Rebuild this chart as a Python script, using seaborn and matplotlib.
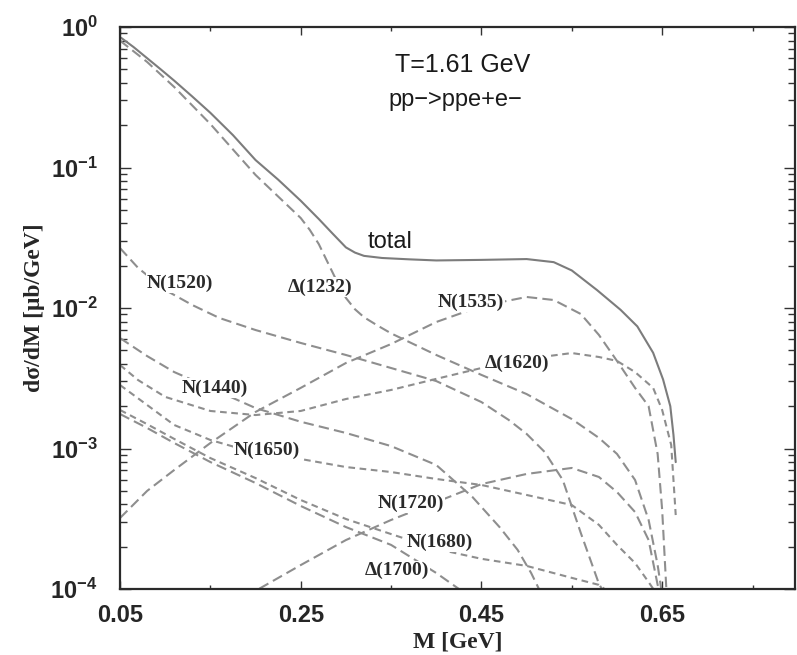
import matplotlib
matplotlib.use("Agg")
import matplotlib.pyplot as plt
import numpy as np
import pandas as pd
import seaborn as sns
from matplotlib.ticker import FixedLocator, FixedFormatter, LogLocator, NullFormatter

# Dilepton invariant-mass spectra, pp -> pp e+e- at T = 1.61 GeV (ub/GeV)
m_total = [0.05, 0.065, 0.08, 0.095, 0.11, 0.13, 0.15, 0.175, 0.20, 0.225, 0.25, 0.27,
           0.285, 0.30, 0.31, 0.32, 0.34, 0.37, 0.40, 0.45, 0.50, 0.53, 0.55, 0.578,
           0.604, 0.6225, 0.64, 0.651, 0.659, 0.6625, 0.665]
xs_total = [0.849, 0.72, 0.60, 0.50, 0.415, 0.32, 0.245, 0.17, 0.113, 0.082, 0.058,
            0.043, 0.034, 0.027, 0.0248, 0.0235, 0.0227, 0.0222, 0.0218, 0.0220, 0.0223,
            0.0212, 0.0185, 0.0134, 0.0097, 0.0074, 0.0048, 0.0031, 0.0020, 0.00125,
            0.00080]

m_d1232 = [0.05, 0.08, 0.11, 0.15, 0.20, 0.25, 0.26, 0.27, 0.28, 0.29, 0.30, 0.31,
           0.32, 0.335, 0.35, 0.40, 0.45, 0.50, 0.55, 0.58, 0.60, 0.62, 0.635, 0.645,
           0.65]
xs_d1232 = [0.80, 0.564, 0.374, 0.204, 0.0885, 0.0437, 0.036, 0.0285, 0.021, 0.0155,
            0.0118, 0.0098, 0.0086, 0.0075, 0.0066, 0.00463, 0.00334, 0.00244, 0.00162,
            0.00119, 0.000915, 0.000597, 0.00031, 0.000148, 0.0000906]

m_n1520 = [0.05, 0.07, 0.10, 0.13, 0.16, 0.20, 0.25, 0.30, 0.35, 0.40, 0.45, 0.48,
           0.50, 0.52, 0.54, 0.56, 0.58, 0.59]
xs_n1520 = [0.0267, 0.0193, 0.01344, 0.0105, 0.00849, 0.00697, 0.00564, 0.00463, 0.00374,
            0.00302, 0.00214, 0.00160, 0.00127, 0.000944, 0.000597, 0.00025, 0.000109,
            0.000084]

m_n1535 = [0.05, 0.08, 0.11, 0.15, 0.20, 0.25, 0.30, 0.35, 0.40, 0.45, 0.50, 0.53,
           0.56, 0.58, 0.60, 0.62, 0.635, 0.645, 0.65, 0.655]
xs_n1535 = [0.00032, 0.000499, 0.000703, 0.001094, 0.00182, 0.0027, 0.00406, 0.00554,
            0.00795, 0.01033, 0.01198, 0.0114, 0.00906, 0.00643, 0.0042, 0.0027, 0.0020,
            0.000914, 0.000365, 0.00009]

m_d1620 = [0.05, 0.07, 0.10, 0.15, 0.20, 0.25, 0.30, 0.35, 0.40, 0.45, 0.50, 0.55,
           0.58, 0.60, 0.62, 0.64, 0.65, 0.66, 0.665]
xs_d1620 = [0.00393, 0.00307, 0.00233, 0.00185, 0.00173, 0.00185, 0.00225, 0.00261,
            0.00313, 0.00374, 0.00434, 0.00478, 0.00448, 0.0042, 0.0035, 0.0027, 0.00188,
            0.00106, 0.000336]

m_n1440 = [0.05, 0.08, 0.11, 0.15, 0.20, 0.25, 0.30, 0.35, 0.40, 0.44, 0.47, 0.49,
           0.505, 0.515]
xs_n1440 = [0.00611, 0.00455, 0.0035, 0.0027, 0.00194, 0.00155, 0.00129, 0.00104,
            0.000763, 0.000452, 0.000276, 0.00019, 0.00013, 0.000096]

m_n1650 = [0.05, 0.08, 0.11, 0.15, 0.20, 0.25, 0.30, 0.35, 0.40, 0.45, 0.50, 0.55,
           0.58, 0.60, 0.62, 0.635, 0.645]
xs_n1650 = [0.00283, 0.00204, 0.00147, 0.00115, 0.000929, 0.000842, 0.000738, 0.00068,
            0.000607, 0.00055, 0.000467, 0.000396, 0.000286, 0.000206, 0.000153,
            0.000112, 0.00009]

m_n1720 = [0.18, 0.20, 0.25, 0.30, 0.35, 0.40, 0.45, 0.50, 0.55, 0.58, 0.60, 0.62,
           0.635, 0.645, 0.65]
xs_n1720 = [0.00007, 0.000097, 0.000148, 0.000223, 0.00031, 0.000416, 0.000558,
            0.000659, 0.000727, 0.000627, 0.00049, 0.000353, 0.000223, 0.000107,
            0.000083]

m_n1680 = [0.05, 0.08, 0.11, 0.15, 0.20, 0.25, 0.30, 0.35, 0.40, 0.45, 0.50, 0.55,
           0.58, 0.59]
xs_n1680 = [0.00188, 0.00149, 0.00117, 0.000855, 0.000616, 0.00043, 0.000315, 0.000246,
            0.000193, 0.000164, 0.000146, 0.00012, 0.000107, 0.000096]

m_d1700 = [0.05, 0.08, 0.11, 0.15, 0.20, 0.25, 0.30, 0.35, 0.40, 0.43]
xs_d1700 = [0.00176, 0.0014, 0.001094, 0.000801, 0.000568, 0.00039, 0.000276, 0.000206,
            0.00013, 0.000095]

channels = ["total", "Δ(1232)", "N(1520)", "N(1535)", "Δ(1620)", "N(1440)",
            "N(1650)", "N(1720)", "N(1680)", "Δ(1700)"]
masses = [m_total, m_d1232, m_n1520, m_n1535, m_d1620, m_n1440,
          m_n1650, m_n1720, m_n1680, m_d1700]
spectra = [xs_total, xs_d1232, xs_n1520, xs_n1535, xs_d1620, xs_n1440,
           xs_n1650, xs_n1720, xs_n1680, xs_d1700]

tick_m = [0.05, 0.25, 0.45, 0.65]
tick_m_labels = ["0.05", "0.25", "0.45", "0.65"]
tick_m_minor = [0.15, 0.35, 0.55, 0.75]
tick_xs = [1e-4, 1e-3, 1e-2, 1e-1, 1e0]
tick_xs_labels = [r"$\mathbf{10^{-4}}$", r"$\mathbf{10^{-3}}$", r"$\mathbf{10^{-2}}$",
                  r"$\mathbf{10^{-1}}$", r"$\mathbf{10^{0}}$"]

df = pd.concat(
    [pd.DataFrame({"channel": c, "M": m, "dsdm": s})
     for c, m, s in zip(channels, masses, spectra)],
    ignore_index=True,
)

sns.set_style("ticks")
plt.rcParams["font.family"] = ["Liberation Sans", "DejaVu Sans"]
plt.rcParams["mathtext.fontset"] = "custom"
plt.rcParams["mathtext.rm"] = "Liberation Sans"
plt.rcParams["mathtext.bf"] = "Liberation Sans:bold"

fig = plt.figure(figsize=(7.97, 6.55), dpi=100)
ax = fig.add_axes([120 / 797, 1 - 589 / 655, 675 / 797, 562 / 655])

long_dash = (5, 2.5)
fine_dash = (3.2, 2.2)
line_dashes = {
    "total": "",
    "Δ(1232)": long_dash, "N(1520)": long_dash, "N(1535)": long_dash,
    "N(1440)": long_dash, "Δ(1700)": long_dash, "N(1720)": long_dash,
    "Δ(1620)": fine_dash, "N(1650)": fine_dash, "N(1680)": fine_dash,
}
palette = {c: "#8e8e8e" for c in channels}
palette["total"] = "#7c7c7c"

sns.lineplot(data=df, x="M", y="dsdm", hue="channel", style="channel",
             palette=palette, dashes=line_dashes, estimator=None, sort=False,
             legend=False, linewidth=1.5, ax=ax)

ax.set_yscale("log")
ax.set_xlim(0.05, 0.797)
ax.set_ylim(1e-4, 1.0)

ax.xaxis.set_major_locator(FixedLocator(tick_m))
ax.xaxis.set_major_formatter(FixedFormatter(tick_m_labels))
ax.xaxis.set_minor_locator(FixedLocator(tick_m_minor))
ax.xaxis.set_minor_formatter(NullFormatter())
ax.yaxis.set_major_locator(FixedLocator(tick_xs))
ax.yaxis.set_major_formatter(FixedFormatter(tick_xs_labels))
ax.yaxis.set_minor_locator(LogLocator(base=10, subs=np.arange(2, 10), numticks=20))
ax.yaxis.set_minor_formatter(NullFormatter())

ax.tick_params(which="both", direction="in", top=True, right=True,
               color="#333333", width=1.0)
ax.tick_params(axis="y", which="major", length=8, pad=16, labelsize=17)
ax.tick_params(axis="y", which="minor", length=5)
ax.tick_params(axis="x", which="major", length=6, pad=11, labelsize=17)
ax.tick_params(axis="x", which="minor", length=3)
for lab in ax.get_xticklabels():
    lab.set_fontweight("bold")
for sp in ax.spines.values():
    sp.set_linewidth(1.6)
    sp.set_color("#2a2a2a")

serif = ["Liberation Serif", "DejaVu Serif"]
ax.set_xlabel("M [GeV]", family=serif, fontweight="bold", fontsize=17, labelpad=3)
ax.set_ylabel("dσ/dM [μb/GeV]", family=serif, fontweight="bold", fontsize=17,
              labelpad=4)

ax.text(0.4287, 0.536, "T=1.61 GeV", fontsize=18, ha="center", va="center",
        color="#1a1a1a")
ax.text(0.421, 0.302, "pp−>ppe+e−", fontsize=17, ha="center", va="center",
        color="#1a1a1a")
ax.text(0.349, 0.0295, "total", fontsize=17, ha="center", va="center",
        color="#1a1a1a")

curve_labels = ["N(1520)", "Δ(1232)", "N(1535)", "Δ(1620)", "N(1440)",
                "N(1650)", "N(1720)", "N(1680)", "Δ(1700)"]
label_m = [0.1164, 0.2715, 0.4387, 0.4896, 0.1552, 0.2128, 0.3723, 0.4044, 0.3568]
label_xs = [0.01507, 0.0141, 0.01103, 0.00406, 0.0027, 0.000976, 0.000409, 0.000216,
            0.000136]
for txt, lx, ly in zip(curve_labels, label_m, label_xs):
    ax.text(lx, ly, txt, family=serif, fontweight="bold", fontsize=14,
            ha="center", va="center", color="#2a2a2a",
            bbox=dict(boxstyle="square,pad=0.05", fc="white", ec="none"))

fig.savefig("out.png", dpi=100)
